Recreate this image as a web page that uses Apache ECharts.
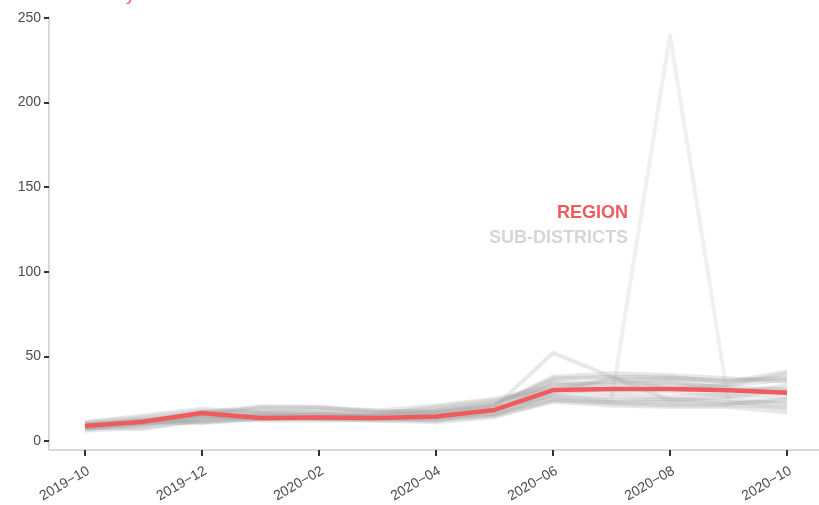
<!DOCTYPE html>
<html>
<head>
<meta charset="utf-8">
<script src="https://cdn.jsdelivr.net/npm/echarts@6/dist/echarts.min.js"></script>
<style>
  html, body { margin: 0; padding: 0; background: #fff; }
  #chart { width: 819px; height: 505px; }
</style>
</head>
<body>
<div id="chart"></div>
<script>
// months on the x axis
const months = ["2019−10", "2019−11", "2019−12", "2020−01", "2020−02", "2020−03", "2020−04",
  "2020−05", "2020−06", "2020−07", "2020−08", "2020−09", "2020−10"];
const yTicks = [0, 50, 100, 150, 200, 250];
const xTicks = [0, 2, 4, 6, 8, 10, 12];

// region line
const region = [8.9, 11.4, 16.5, 13.6, 13.8, 13.6, 14.4, 18.3, 30.1, 30.7, 30.7, 30, 28.5];

// sub-district lines (approx)
const subDistricts = [
  [9, 10, 14, 15, 15, 14, 15, 18, 27, 24, 240, 23, 22],
  [8, 10, 13, 14, 14, 15, 16, 20, 52, 38, 24, 26, 30],
  [9, 12, 17, 20.5, 20, 17, 18, 22, 36, 38, 38, 35, 38],
  [8, 11, 10.5, 13, 14, 14, 13, 17, 25, 23, 22, 22, 24],
  [7, 9, 14, 15, 14, 13, 12, 15, 28, 31, 33, 32, 30],
  [10, 13, 16, 18, 17, 16, 19, 23, 33, 35, 36, 33, 40],
  [6, 8, 12, 13, 13, 12, 11, 14, 24, 22, 21, 21, 20],
  [11, 14, 18, 16, 15, 15, 17, 21, 38, 40, 39, 37, 35],
  [9, 10, 15, 14, 16, 16, 20, 24, 30, 28, 26, 28, 33],
  [8, 12, 13, 17, 18, 17, 16, 19, 35, 33, 35, 31, 28],
  [7, 11, 15, 12, 12, 13, 14, 16, 27, 26, 24, 25, 22],
  [10, 12, 17, 19, 19, 18, 21, 25, 32, 36, 37, 35, 41],
  [9, 13, 11, 14, 13, 12, 13, 15, 23, 21, 20, 20, 17],
  [8, 7, 12, 15, 16, 15, 15, 18, 34, 30, 29, 27, 26],
  [11, 15, 19, 17, 16, 14, 12, 18, 29, 37, 31, 33, 36],
  [7, 10, 14, 16, 15, 14, 18, 22, 31, 34, 34, 30, 31],
  [10, 11, 16, 13, 14, 15, 17, 20, 26, 24, 25, 23, 19],
  [9, 12, 15, 20, 20, 18, 17, 21, 37, 38, 37, 36, 37],
  [8, 11, 11, 13, 13, 13, 14, 16, 24, 23, 23, 22, 25]
];

const toPoints = (arr) => arr.map((v, i) => [i, v]);

const chart = echarts.init(document.getElementById("chart"));

const greySeries = subDistricts.map((vals, k) => ({
  name: "sub" + k,
  type: "line",
  data: toPoints(vals),
  symbol: "none",
  silent: true,
  lineStyle: { color: "#a8a8a8", width: 4, opacity: k === 0 ? 0.17 : 0.26, join: "round" },
  z: 2
}));

const labelFont = "Liberation Sans, Arial, sans-serif";

const option = {
  animation: false,
  grid: { left: 49, right: 0, top: 17, bottom: 55 },
  xAxis: {
    type: "value",
    min: -0.615,
    max: 12.547,
    splitLine: { show: false },
    axisLine: { show: true, onZero: false, lineStyle: { color: "#d9d9d9", width: 2 } },
    axisTick: { show: true, customValues: xTicks, length: 6, lineStyle: { color: "#333", width: 2 } },
    axisLabel: {
      customValues: xTicks,
      formatter: (v) => months[Math.round(v)],
      rotate: 30,
      align: "right",
      verticalAlign: "top",
      color: "#4d4d4d",
      fontSize: 14,
      fontFamily: labelFont,
      margin: 14
    }
  },
  yAxis: {
    type: "value",
    min: -5.32,
    max: 250.6,
    splitLine: { show: false },
    axisLine: { show: true, onZero: false, lineStyle: { color: "#d9d9d9", width: 2 } },
    axisTick: { show: true, customValues: yTicks, length: 5, lineStyle: { color: "#333", width: 2 } },
    axisLabel: {
      customValues: yTicks,
      color: "#4d4d4d",
      fontSize: 14,
      fontFamily: labelFont,
      margin: 8
    }
  },
  graphic: [
    {
      type: "text", right: 191, top: 204,
      style: { text: "REGION", fill: "#ef5a5d", font: "bold 18px 'Liberation Sans', Arial, sans-serif" }
    },
    {
      type: "text", right: 191, top: 229,
      style: { text: "SUB-DISTRICTS", fill: "#d6d6d6", font: "bold 18px 'Liberation Sans', Arial, sans-serif" }
    },
    {
      type: "text", left: 72, top: -14,
      style: { text: "Monthly", fill: "#ef5a5d", font: "18px 'Liberation Sans', Arial, sans-serif" }
    }
  ],
  series: [
    ...greySeries,
    {
      name: "REGION",
      type: "line",
      data: toPoints(region),
      symbol: "none",
      lineStyle: { color: "#ef5a5d", width: 4.5, join: "round" },
      z: 5
    }
  ]
};

chart.setOption(option);
</script>
</body>
</html>
